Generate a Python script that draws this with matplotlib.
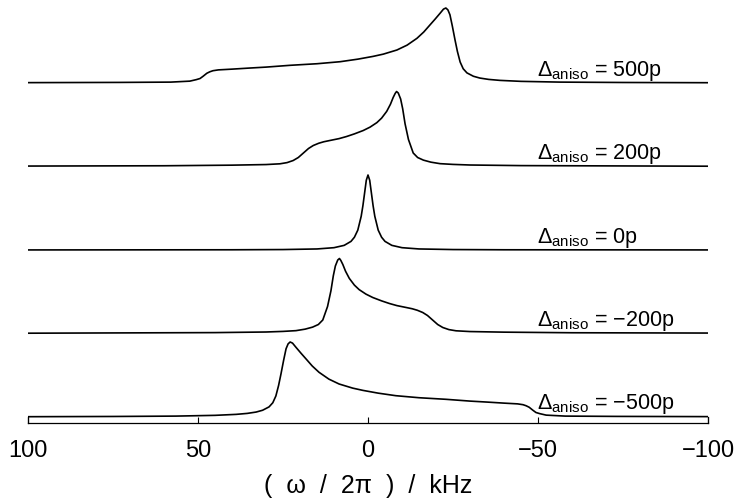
import matplotlib
matplotlib.use('Agg')
import matplotlib.pyplot as plt

plt.rcParams['font.family'] = ['Liberation Sans', 'DejaVu Sans']
plt.rcParams['mathtext.fontset'] = 'custom'
plt.rcParams['mathtext.rm'] = 'Liberation Sans'
plt.rcParams['mathtext.it'] = 'Liberation Sans:italic'

# spectra: frequency (kHz) and height (peak = 1)
x_500 = [100, 73, 58, 52.4, 50.5, 49.4, 48.5, 47.4, 46.5, 45.6, 44, 40, 35, 30, 22.9, 15,
         8.2, 3, -1.5, -4.5, -8.5, -11.5, -14.4, -16.4, -18.2, -19.7, -21.2, -22.2,
         -22.9, -23.5, -24.1, -24.8, -25.6, -26.3, -27.1, -28, -29.1, -31, -32.9, -35.5,
         -38.8, -45, -56.5, -75, -100]
h_500 = [0.005, 0.008, 0.012, 0.025, 0.045, 0.06, 0.09, 0.13, 0.15, 0.164, 0.175, 0.185,
         0.199, 0.212, 0.236, 0.257, 0.284, 0.318, 0.355, 0.385, 0.44, 0.505, 0.596,
         0.68, 0.773, 0.85, 0.93, 0.985, 1.0, 0.975, 0.91, 0.76, 0.573, 0.42, 0.28, 0.19,
         0.135, 0.09, 0.066, 0.048, 0.035, 0.022, 0.012, 0.007, 0.004]

x_200 = [100, 60, 40, 30, 25.9, 23.8, 22.0, 20.5, 19.0, 17.5, 16.1, 14.5, 13, 11.2, 8.5,
         6.3, 4, 1.4, -0.6, -2.6, -4, -5.5, -6.6, -7.4, -8.0, -8.4, -8.9, -9.6, -10.2,
         -10.9, -11.9, -13.3, -14.6, -16.3, -18.5, -21.2, -25, -30, -45, -100]
h_200 = [0.006, 0.01, 0.018, 0.026, 0.036, 0.052, 0.08, 0.12, 0.18, 0.24, 0.28, 0.31,
         0.33, 0.347, 0.372, 0.40, 0.435, 0.48, 0.525, 0.585, 0.645, 0.735, 0.83, 0.92,
         0.975, 1.0, 0.98, 0.90, 0.77, 0.57, 0.36, 0.18, 0.12, 0.085, 0.058, 0.038,
         0.028, 0.02, 0.012, 0.004]

x_0 = [100, 40, 25, 15, 10, 7, 5, 4, 3, 2, 1.5, 1, 0.5, 0, -0.5, -1, -1.5, -2, -3, -4,
       -5, -7, -10, -15, -25, -40, -100]
h_0 = [0.001, 0.003, 0.006, 0.014, 0.031, 0.062, 0.115, 0.17, 0.265, 0.45, 0.59, 0.76,
       0.93, 1.0, 0.93, 0.76, 0.59, 0.45, 0.265, 0.17, 0.115, 0.062, 0.031, 0.014, 0.006,
       0.003, 0.001]

# the negative-anisotropy spectra are the mirror images of the positive ones
x_m200 = [-v for v in x_200]
h_m200 = list(h_200)
x_m500 = [-v for v in x_500]
h_m500 = list(h_500)

labels = ['500p', '200p', '0p', '\u2212200p', '\u2212500p']
spectra = [(x_500, h_500), (x_200, h_200), (x_0, h_0), (x_m200, h_m200), (x_m500, h_m500)]
xticks = [100, 50, 0, -50, -100]

spacing = 1.1133

fig = plt.figure(figsize=(7.4, 5.04), dpi=100)
ax = fig.add_axes([28 / 740, 81 / 504, 680 / 740, 423 / 504])

n = len(spectra)
for i, (xs, hs) in enumerate(spectra):
    off = (n - 1 - i) * spacing
    ax.plot(xs, [h + off for h in hs], color='black', lw=1.2)
    ax.text(-49.7, off + 0.10, r'$\Delta_{\rm aniso}$ = ' + labels[i],
            fontsize=15.5, ha='left', va='baseline')

ax.set_xlim(100, -100)
ax.set_ylim(-0.08, 5.56)
ax.set_xticks(xticks)
ax.set_xticklabels(['100', '50', '0', '\u221250', '\u2212100'])
ax.tick_params(axis='x', direction='in', length=4.3, width=0.8, labelsize=17, pad=12)
ax.set_yticks([])
ax.spines['top'].set_visible(False)
ax.spines['left'].set_bounds(-0.08, 0)
ax.spines['right'].set_bounds(-0.08, 0)
for s in ['left', 'right', 'bottom']:
    ax.spines[s].set_linewidth(0.9)
ax.set_xlabel('(  \u03c9  /  2\u03c0  )  /  kHz', fontsize=18, labelpad=9)

fig.savefig('out.png', dpi=100)
